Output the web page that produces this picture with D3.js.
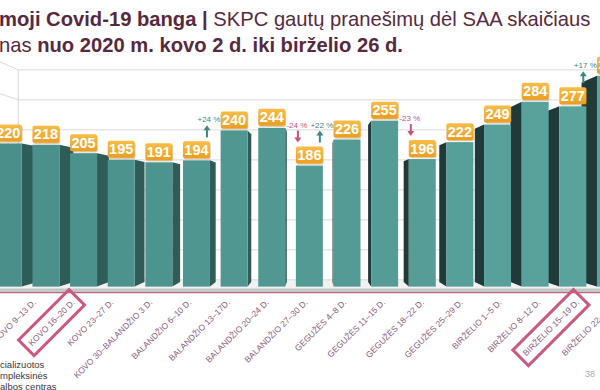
<!DOCTYPE html>
<html>
<head>
<meta charset="utf-8">
<script src="https://cdn.jsdelivr.net/npm/d3@7/dist/d3.min.js"></script>
<style>
  html, body { margin: 0; padding: 0; background: #fff; }
  svg { display: block; font-family: "Liberation Sans", Arial, sans-serif; }
</style>
</head>
<body>
<div id="chart"></div>
<script>
// weeks (Mon-Fri) from 2020-03-02 to 2020-06-26
var categories = ["KOVO 2–6 D.", "KOVO 9–13 D.", "KOVO 16–20 D.", "KOVO 23–27 D.",
  "KOVO 30–BALANDŽIO 3 D.", "BALANDŽIO 6–10 D.", "BALANDŽIO 13–17D.", "BALANDŽIO 20–24 D.",
  "BALANDŽIO 27–30 D.", "GEGUŽĖS 4–8 D.", "GEGUŽĖS 11–15 D.", "GEGUŽĖS 18–22 D.",
  "GEGUŽĖS 25–29 D.", "BIRŽELIO 1–5 D.", "BIRŽELIO 8–12 D.", "BIRŽELIO  15–19 D.", "BIRŽELIO 22–26 D."];
var values = [220, 218, 205, 195, 191, 194, 240, 244, 186, 226, 255, 196, 222, 249, 284, 277, 324];
var highlighted = ["KOVO 16–20 D.", "BIRŽELIO  15–19 D."];
var changeFrom = [5, 7, 8, 10, 15];
var changeText = ["+24 %", "-24 %", "+22 %", "-23 %", "+17 %"];
var gridValues = [0, 50, 100, 150, 200, 250, 300, 350];
var titleLine1 = ["moji Covid-19 banga | ", "SKPC gautų pranešimų  dėl SAA skaičiaus"];
var titleLine2 = ["nas ", "nuo 2020 m. kovo 2 d. iki birželio 26 d."];
var footerLines = ["cializuotos", "mpleksinės", "albos centras"];
var pageNo = "38";

var width = 600, height = 390;
// simple one-point perspective
var vx = 315, vy = 200;
var sFront = 0.97, sBack = 0.917, sWall = 0.894;
var wallLeft = -16.9;
var barW = 27.8;

var x = d3.scalePoint().domain(categories).range([-1.2, 619.6]);
var y = d3.scaleLinear().domain([0, 350]).range([289.3, 54.45]);

function P(px, py, s) {
  return [vx + (px - vx) * s, vy + (py - vy) * s];
}

var svg = d3.select("#chart").append("svg")
  .attr("width", width)
  .attr("height", height);

var defs = svg.append("defs");
var og = defs.append("linearGradient").attr("id", "orange")
  .attr("x1", 0).attr("y1", 0).attr("x2", 0).attr("y2", 1);
og.append("stop").attr("offset", "0%").attr("stop-color", "#f8bd48");
og.append("stop").attr("offset", "100%").attr("stop-color", "#eb9e21");

// floor
var floorPts = [P(wallLeft, y(0), sWall), P(700, y(0), sWall), P(700, y(0), 1), P(wallLeft, y(0), 1)];
svg.append("polygon")
  .attr("points", floorPts.map(function(p){ return p.join(","); }).join(" "))
  .attr("fill", "#f2f2f2");

// back wall and left wall grid
var grid = svg.append("g").attr("stroke", "#d9d9d9").attr("stroke-width", 1).attr("fill", "none");
gridValues.forEach(function(v) {
  var a = P(wallLeft, y(v), sWall), b = P(700, y(v), sWall), c = P(wallLeft, y(v), 1);
  grid.append("path").attr("d", "M" + c + "L" + a + "L" + b);
});
var e0 = P(wallLeft, y(0), sWall), e1 = P(wallLeft, y(350), sWall);
grid.append("path").attr("d", "M" + e0 + "L" + e1);

// floor slab and axis line
svg.append("rect").attr("x", 0).attr("width", width)
  .attr("y", y(0) - 0.8).attr("height", 3.6).attr("fill", "#c6c6c6");
svg.append("line").attr("x1", 0).attr("x2", width)
  .attr("y1", y(0) + 3.3).attr("y2", y(0) + 3.3)
  .attr("stroke", "#b56a8a").attr("stroke-width", 1.3);

var n = categories.length;
var data = categories.map(function(c, i) {
  var xl = x(c) - barW / 2, xr = x(c) + barW / 2;
  var fl = P(xl, y(values[i]), sFront), fr = P(xr, y(values[i]), sFront);
  return { cat: c, i: i, v: values[i], xl: xl, xr: xr, left: fl[0], right: fr[0], top: fl[1] };
});

// side faces first, front faces cover them
var sides = svg.append("g");
data.forEach(function(d) {
  var ex, col;
  if (d.right < vx) { ex = d.xr; col = "#2f5c57"; }
  else if (d.left > vx) { ex = d.xl; col = "#1f3a38"; }
  else return;
  var pts = [P(ex, y(d.v), sFront), P(ex, y(d.v), sBack), P(ex, y(0), sBack), P(ex, y(0), sFront)];
  sides.append("polygon")
    .attr("points", pts.map(function(p){ return p.join(","); }).join(" "))
    .attr("fill", col);
});

var frontCol = d3.interpolateRgb("#4a8f89", "#5ba49e");
svg.append("g").selectAll("rect")
  .data(data)
  .join("rect")
  .attr("x", function(d){ return d.left; })
  .attr("width", function(d){ return d.right - d.left; })
  .attr("y", function(d){ return d.top; })
  .attr("height", function(d){ return P(0, y(0), sFront)[1] - d.top; })
  .attr("fill", function(d){ return frontCol(d.i / (n - 1)); });

// value tabs
var tabH = 17;
var tabs = svg.append("g").selectAll("g")
  .data(data)
  .join("g")
  .attr("transform", function(d){ return "translate(" + d.left + "," + (d.top - 2 - tabH) + ")"; });
tabs.append("rect")
  .attr("x", 0.8).attr("y", 1.2)
  .attr("width", function(d){ return d.right - d.left; }).attr("height", tabH)
  .attr("rx", 2).attr("fill", "#a8741c").attr("opacity", 0.35);
tabs.append("rect")
  .attr("width", function(d){ return d.right - d.left; }).attr("height", tabH)
  .attr("rx", 2).attr("fill", "url(#orange)");
tabs.append("text")
  .attr("x", function(d){ return (d.right - d.left) / 2; })
  .attr("y", tabH - 3.5)
  .attr("text-anchor", "middle")
  .attr("fill", "#fff")
  .attr("font-weight", "bold")
  .attr("font-size", "14.5px")
  .text(function(d){ return d.v; });

// change annotations
changeFrom.forEach(function(f, k) {
  var a = data[f], b = data[f + 1];
  var up = b.v > a.v;
  var low = up ? a : b;
  var ax = up ? low.right - 3 : low.left + 2;
  var col = up ? "#3d8781" : "#c4527c";
  var bottom = low.top - 2 - tabH - 4;
  var topY = bottom - 12;
  var g = svg.append("g").attr("fill", col).attr("stroke", col);
  if (up) {
    g.append("line").attr("x1", ax).attr("x2", ax).attr("y1", bottom).attr("y2", topY + 4).attr("stroke-width", 2);
    g.append("path").attr("stroke", "none")
      .attr("d", "M" + (ax - 3.5) + "," + (topY + 5) + "L" + ax + "," + topY + "L" + (ax + 3.5) + "," + (topY + 5) + "Z");
  } else {
    g.append("line").attr("x1", ax).attr("x2", ax).attr("y1", topY).attr("y2", bottom - 4).attr("stroke-width", 2);
    g.append("path").attr("stroke", "none")
      .attr("d", "M" + (ax - 3.5) + "," + (bottom - 5) + "L" + ax + "," + bottom + "L" + (ax + 3.5) + "," + (bottom - 5) + "Z");
  }
  g.append("text").attr("stroke", "none")
    .attr("x", up ? ax + 2 : ax - 1).attr("y", topY - 3)
    .attr("text-anchor", "middle")
    .attr("font-size", "8px")
    .text(changeText[k]);
});

// category labels
var labels = svg.append("g").selectAll("g")
  .data(categories)
  .join("g")
  .attr("transform", function(c){ return "translate(" + (x(c) - 1) + ",303) rotate(-45)"; });
labels.append("text")
  .attr("text-anchor", "end")
  .attr("font-size", "8.5px")
  .attr("fill", "#8b5a7c")
  .text(function(c){ return c; });
labels.filter(function(c){ return highlighted.indexOf(c) >= 0; })
  .each(function() {
    var g = d3.select(this);
    var bb = g.select("text").node().getBBox();
    g.insert("rect", "text")
      .attr("x", bb.x - 5).attr("y", bb.y - 6)
      .attr("width", bb.width + 10).attr("height", bb.height + 12)
      .attr("fill", "none").attr("stroke", "#c9597f").attr("stroke-width", 3);
  });

// title
var title = svg.append("g").attr("fill", "#56293f").attr("font-size", "20.2px");
var t1 = title.append("text").attr("x", -1).attr("y", 26);
t1.append("tspan").attr("font-weight", "bold").text(titleLine1[0]);
t1.append("tspan").text(titleLine1[1]);
var t2 = title.append("text").attr("x", -1).attr("y", 52);
t2.append("tspan").text(titleLine2[0]);
t2.append("tspan").attr("font-weight", "bold").text(titleLine2[1]);

// footer
svg.append("g").selectAll("text")
  .data(footerLines)
  .join("text")
  .attr("x", 0)
  .attr("y", function(d, i){ return 368 + i * 11; })
  .attr("font-size", "9.5px")
  .attr("fill", "#3e3440")
  .text(function(d){ return d; });

svg.append("text")
  .attr("x", 590).attr("y", 377)
  .attr("text-anchor", "middle")
  .attr("font-size", "9px")
  .attr("fill", "#aaaaaa")
  .text(pageNo);
</script>
</body>
</html>
